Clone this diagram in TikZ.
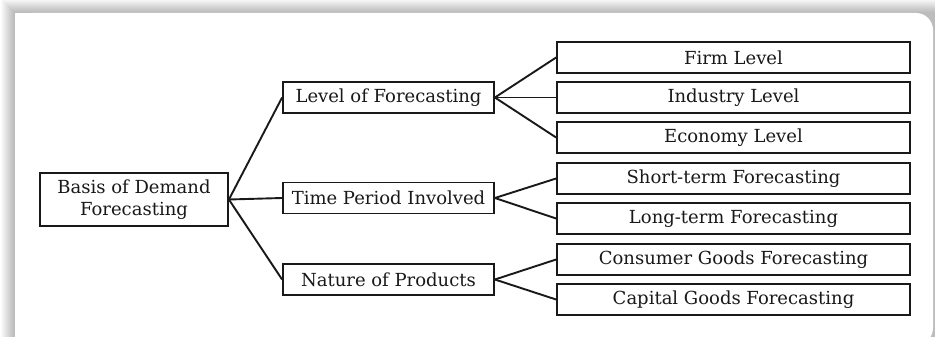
\documentclass[tikz,border=0pt]{standalone}
\usepackage{fontspec}
\setmainfont{DejaVu Serif}
\begin{document}
\begin{tikzpicture}[x=1pt,y=-1pt,
  box/.style={draw=black!90,line width=1.8pt,inner sep=0pt,minimum height=31pt,anchor=center,align=center,text=black!90,font=\fontsize{18}{21.5}\selectfont},
  midbox/.style={box,minimum width=211pt},
  leafbox/.style={box,minimum width=353pt},
  conn/.style={line width=1.9pt,draw=black!90}]
\useasboundingbox (0,0) rectangle (935,337);
\fill[white] (0,0) rectangle (935,337);
% shadow
\foreach \i in {1,...,14}{
  \fill[black,opacity=0.019] (15-\i,13-\i) rectangle (935,337);
}
\fill[white] (15,13) rectangle (915,345);
\fill[white,rounded corners=17pt] (15,13) rectangle (933,345);
% nodes
\node[box,minimum width=188pt,minimum height=53pt] (root) at (134,199.5) {Basis of Demand\\Forecasting};
\node[midbox] (lvl) at (388.5,97.5) {Level of Forecasting};
\node[midbox] (tim) at (388.5,198) {Time Period Involved};
\node[midbox] (nat) at (388.5,279.5) {Nature of Products};
\node[leafbox] (firm) at (733.5,57.5) {Firm Level};
\node[leafbox] (ind) at (733.5,97.5) {Industry Level};
\node[leafbox] (eco) at (733.5,137.5) {Economy Level};
\node[leafbox] (sho) at (733.5,178.5) {Short-term Forecasting};
\node[leafbox] (lon) at (733.5,218.5) {Long-term Forecasting};
\node[leafbox] (con) at (733.5,259.5) {Consumer Goods Forecasting};
\node[leafbox] (cap) at (733.5,299.5) {Capital Goods Forecasting};
% connectors
\foreach \m in {lvl,tim,nat}{\draw[conn] (root.east) -- (\m.west);}
\foreach \l in {firm,ind,eco}{\draw[conn] (lvl.east) -- (\l.west);}
\foreach \l in {sho,lon}{\draw[conn] (tim.east) -- (\l.west);}
\foreach \l in {con,cap}{\draw[conn] (nat.east) -- (\l.west);}
\end{tikzpicture}
\end{document}
